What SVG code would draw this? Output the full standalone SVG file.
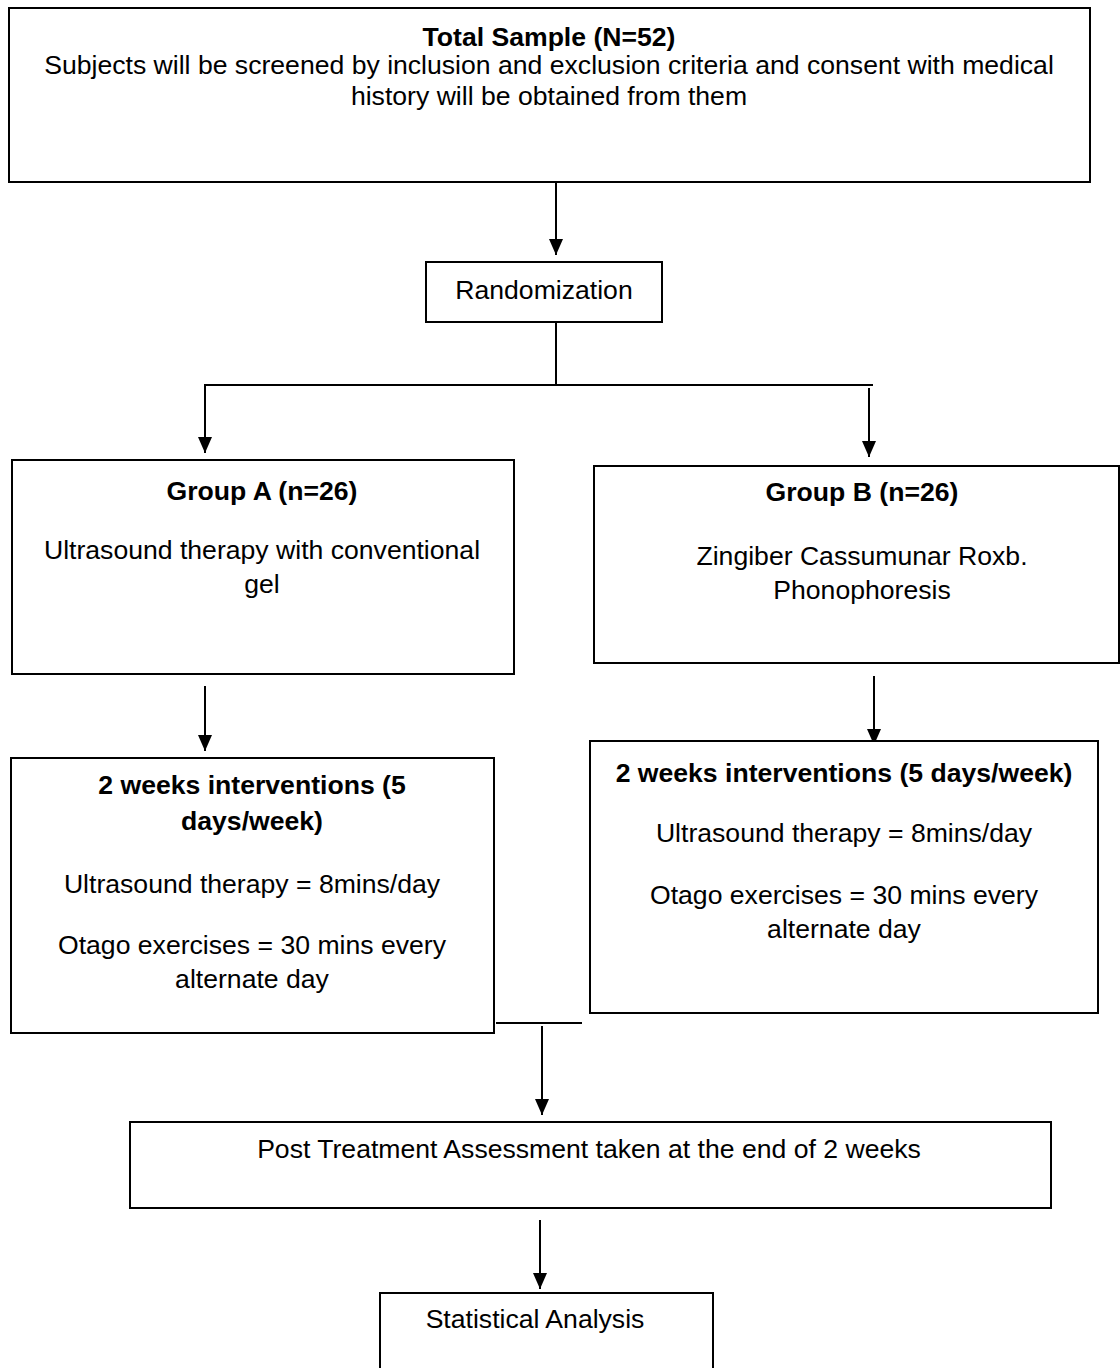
<svg xmlns="http://www.w3.org/2000/svg" width="1120" height="1368" viewBox="0 0 1120 1368">
<style>
.box{fill:#fff;stroke:#000;stroke-width:2}
.t{font-family:"Liberation Sans",Arial,sans-serif;font-size:26.6px;fill:#000;text-anchor:middle}
.b{font-weight:bold}
.c{stroke:#000;stroke-width:2;fill:none}
</style>
<defs>
<marker id="ah" markerUnits="userSpaceOnUse" markerWidth="16" markerHeight="14" refX="16" refY="7" orient="auto" viewBox="0 0 16 14">
<path d="M0,0 L16,7 L0,14 Z" fill="#000"/>
</marker>
</defs>
<rect width="1120" height="1368" fill="#fff"/>
<g id="connectors">
<line class="c" x1="556" y1="183" x2="556" y2="255" marker-end="url(#ah)"/>
<line class="c" x1="556" y1="322" x2="556" y2="384"/>
<line class="c" x1="204" y1="385" x2="873" y2="385"/>
<line class="c" x1="205" y1="385" x2="205" y2="453" marker-end="url(#ah)"/>
<line class="c" x1="869" y1="388" x2="869" y2="457" marker-end="url(#ah)"/>
<line class="c" x1="205" y1="686" x2="205" y2="751" marker-end="url(#ah)"/>
<line class="c" x1="874" y1="676" x2="874" y2="745" marker-end="url(#ah)"/>
<line class="c" x1="496" y1="1023" x2="582" y2="1023"/>
<line class="c" x1="542" y1="1026" x2="542" y2="1115" marker-end="url(#ah)"/>
<line class="c" x1="540" y1="1220" x2="540" y2="1289" marker-end="url(#ah)"/>
</g>
<g id="total">
<rect class="box" x="9" y="8" width="1081" height="174"/>
<text class="t b" x="549" y="46">Total Sample (N=52)</text>
<text class="t" x="549" y="74">Subjects will be screened by inclusion and exclusion criteria and consent with medical</text>
<text class="t" x="549" y="105">history will be obtained from them</text>
</g>
<g id="randomization">
<rect class="box" x="426" y="262" width="236" height="60"/>
<text class="t" x="544" y="299">Randomization</text>
</g>
<g id="groupA">
<rect class="box" x="12" y="460" width="502" height="214"/>
<text class="t b" x="262" y="500">Group A (n=26)</text>
<text class="t" x="262" y="559">Ultrasound therapy with conventional</text>
<text class="t" x="262" y="593">gel</text>
</g>
<g id="groupB">
<rect class="box" x="594" y="466" width="525" height="197"/>
<text class="t b" x="862" y="501">Group B (n=26)</text>
<text class="t" x="862" y="565">Zingiber Cassumunar Roxb.</text>
<text class="t" x="862" y="599">Phonophoresis</text>
</g>
<g id="interventionA">
<rect class="box" x="11" y="758" width="483" height="275"/>
<text class="t b" x="252" y="794">2 weeks interventions (5</text>
<text class="t b" x="252" y="830">days/week)</text>
<text class="t" x="252" y="893">Ultrasound therapy = 8mins/day</text>
<text class="t" x="252" y="954">Otago exercises = 30 mins every</text>
<text class="t" x="252" y="988">alternate day</text>
</g>
<g id="interventionB">
<rect class="box" x="590" y="741" width="508" height="272"/>
<text class="t b" x="844" y="782">2 weeks interventions (5 days/week)</text>
<text class="t" x="844" y="842">Ultrasound therapy = 8mins/day</text>
<text class="t" x="844" y="904">Otago exercises = 30 mins every</text>
<text class="t" x="844" y="938">alternate day</text>
</g>
<g id="post">
<rect class="box" x="130" y="1122" width="921" height="86"/>
<text class="t" x="589" y="1158">Post Treatment Assessment taken at the end of 2 weeks</text>
</g>
<g id="stats">
<rect class="box" x="380" y="1293" width="333" height="80"/>
<text class="t" x="535" y="1328">Statistical Analysis</text>
</g>
</svg>
